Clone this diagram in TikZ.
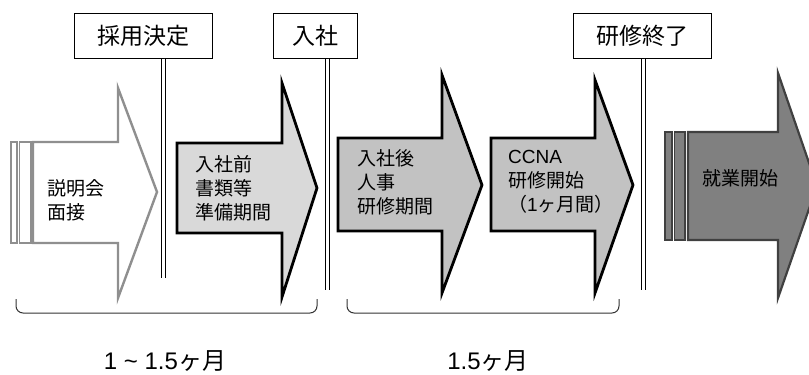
\documentclass[tikz,border=0pt]{standalone}
\usepackage{fontspec}
\setmainfont{Noto Sans CJK JP}
\newfontfamily\latin{Liberation Sans}
\usepackage{xcolor}
\usetikzlibrary{calc}
\definecolor{arrowedge}{gray}{0.56}
\definecolor{palefill}{gray}{0.85}
\definecolor{midfill}{gray}{0.76}
\definecolor{darkfill}{gray}{0.5}
\definecolor{darkedge}{gray}{0.25}
\definecolor{braceline}{gray}{0.2}

\begin{document}
\begin{tikzpicture}[x=1pt,y=-1pt,
    milestone/.style={draw, line width=1pt, minimum height=45pt, inner sep=0pt,
      font=\fontsize{23}{28}\selectfont},
    pole/.style={draw, double, line width=1.2pt, double distance=2.4pt},
    steptext/.style={anchor=west, align=left, inner sep=0pt,
      font=\fontsize{19}{24}\selectfont},
    spantext/.style={inner sep=0pt, font=\fontsize{24}{28}\selectfont}]
        \useasboundingbox (0,0) rectangle (809,375);
        \clip (0,0) rectangle (809,375);

        % arrows
        \draw[line width=1.3pt, arrowedge, fill=white] (11,142) rectangle (17,243);
        \draw[line width=1.3pt, arrowedge, fill=white] (19.5,142) rectangle (31,243);
        \draw[line width=2.4pt, arrowedge, fill=white, line join=miter]
            (33,142) -- (118,142) -- (118,88) -- (157,192) -- (118,298) -- (118,243) -- (33,243) -- cycle;
        \draw[line width=2.8pt, black, fill=palefill, line join=miter]
            (177,143) -- (282,143) -- (282,83) -- (317,188) -- (282,297) -- (282,233) -- (177,233) -- cycle;
        \draw[line width=2.8pt, black, fill=midfill, line join=miter]
            (338,138) -- (442,138) -- (442,75) -- (482,185) -- (442,293) -- (442,231) -- (338,231) -- cycle;
        \draw[line width=2.8pt, black, fill=midfill, line join=miter]
            (491,138) -- (595,138) -- (595,80) -- (633,185) -- (595,293) -- (595,231) -- (491,231) -- cycle;
        \draw[line width=1.3pt, darkedge, fill=darkfill] (665,132) rectangle (672,240);
        \draw[line width=1.3pt, darkedge, fill=darkfill] (674.5,132) rectangle (685,240);
        \draw[line width=2.2pt, darkedge, fill=darkfill, line join=miter]
            (688,132) -- (778,132) -- (778,73) -- (817,186) -- (778,298) -- (778,240) -- (688,240) -- cycle;

        % milestones
        \node[milestone, minimum width=138pt] (saiyo) at (143,35.5) {採用決定};
        \node[milestone, minimum width=84pt] (nyusha) at (315,35.5) {入社};
        \node[milestone, minimum width=138pt] (shuryo) at (642,35.5) {研修終了};
        \coordinate (pole1) at (163.5,278);
        \coordinate (pole2) at (327.5,290);
        \coordinate (pole3) at (643.5,290);
        \draw[pole] (saiyo.south -| pole1) -- (pole1);
        \draw[pole] (nyusha.south -| pole2) -- (pole2);
        \draw[pole] (shuryo.south -| pole3) -- (pole3);

        % Text
        \node[steptext] (setsumei) at (47,200) {説明会\\面接};
        \node[steptext] (junbi) at (195,188) {入社前\\書類等\\準備期間};
        \node[steptext] (jinji) at (357,182) {入社後\\人事\\研修期間};
        \node[steptext] (ccna) at (508,182) {{\latin CCNA}\\研修開始\\（{\latin 1}ヶ月間）};
        \node[steptext] (shugyo) at (702,178) {就業開始};

        % spans
        \draw[line width=1pt, braceline, rounded corners=7pt]
            (16,299) -- (16,313) -- (317,313) -- (317,299);
        \draw[line width=1pt, braceline, rounded corners=7pt]
            (347,299) -- (347,313) -- (619,313) -- (619,299);
        \node[spantext] (span1) at (165,361) {{\latin 1 \textasciitilde\ 1.5}ヶ月};
        \node[spantext] (span2) at (488,361) {{\latin 1.5}ヶ月};
\end{tikzpicture}
\end{document}
